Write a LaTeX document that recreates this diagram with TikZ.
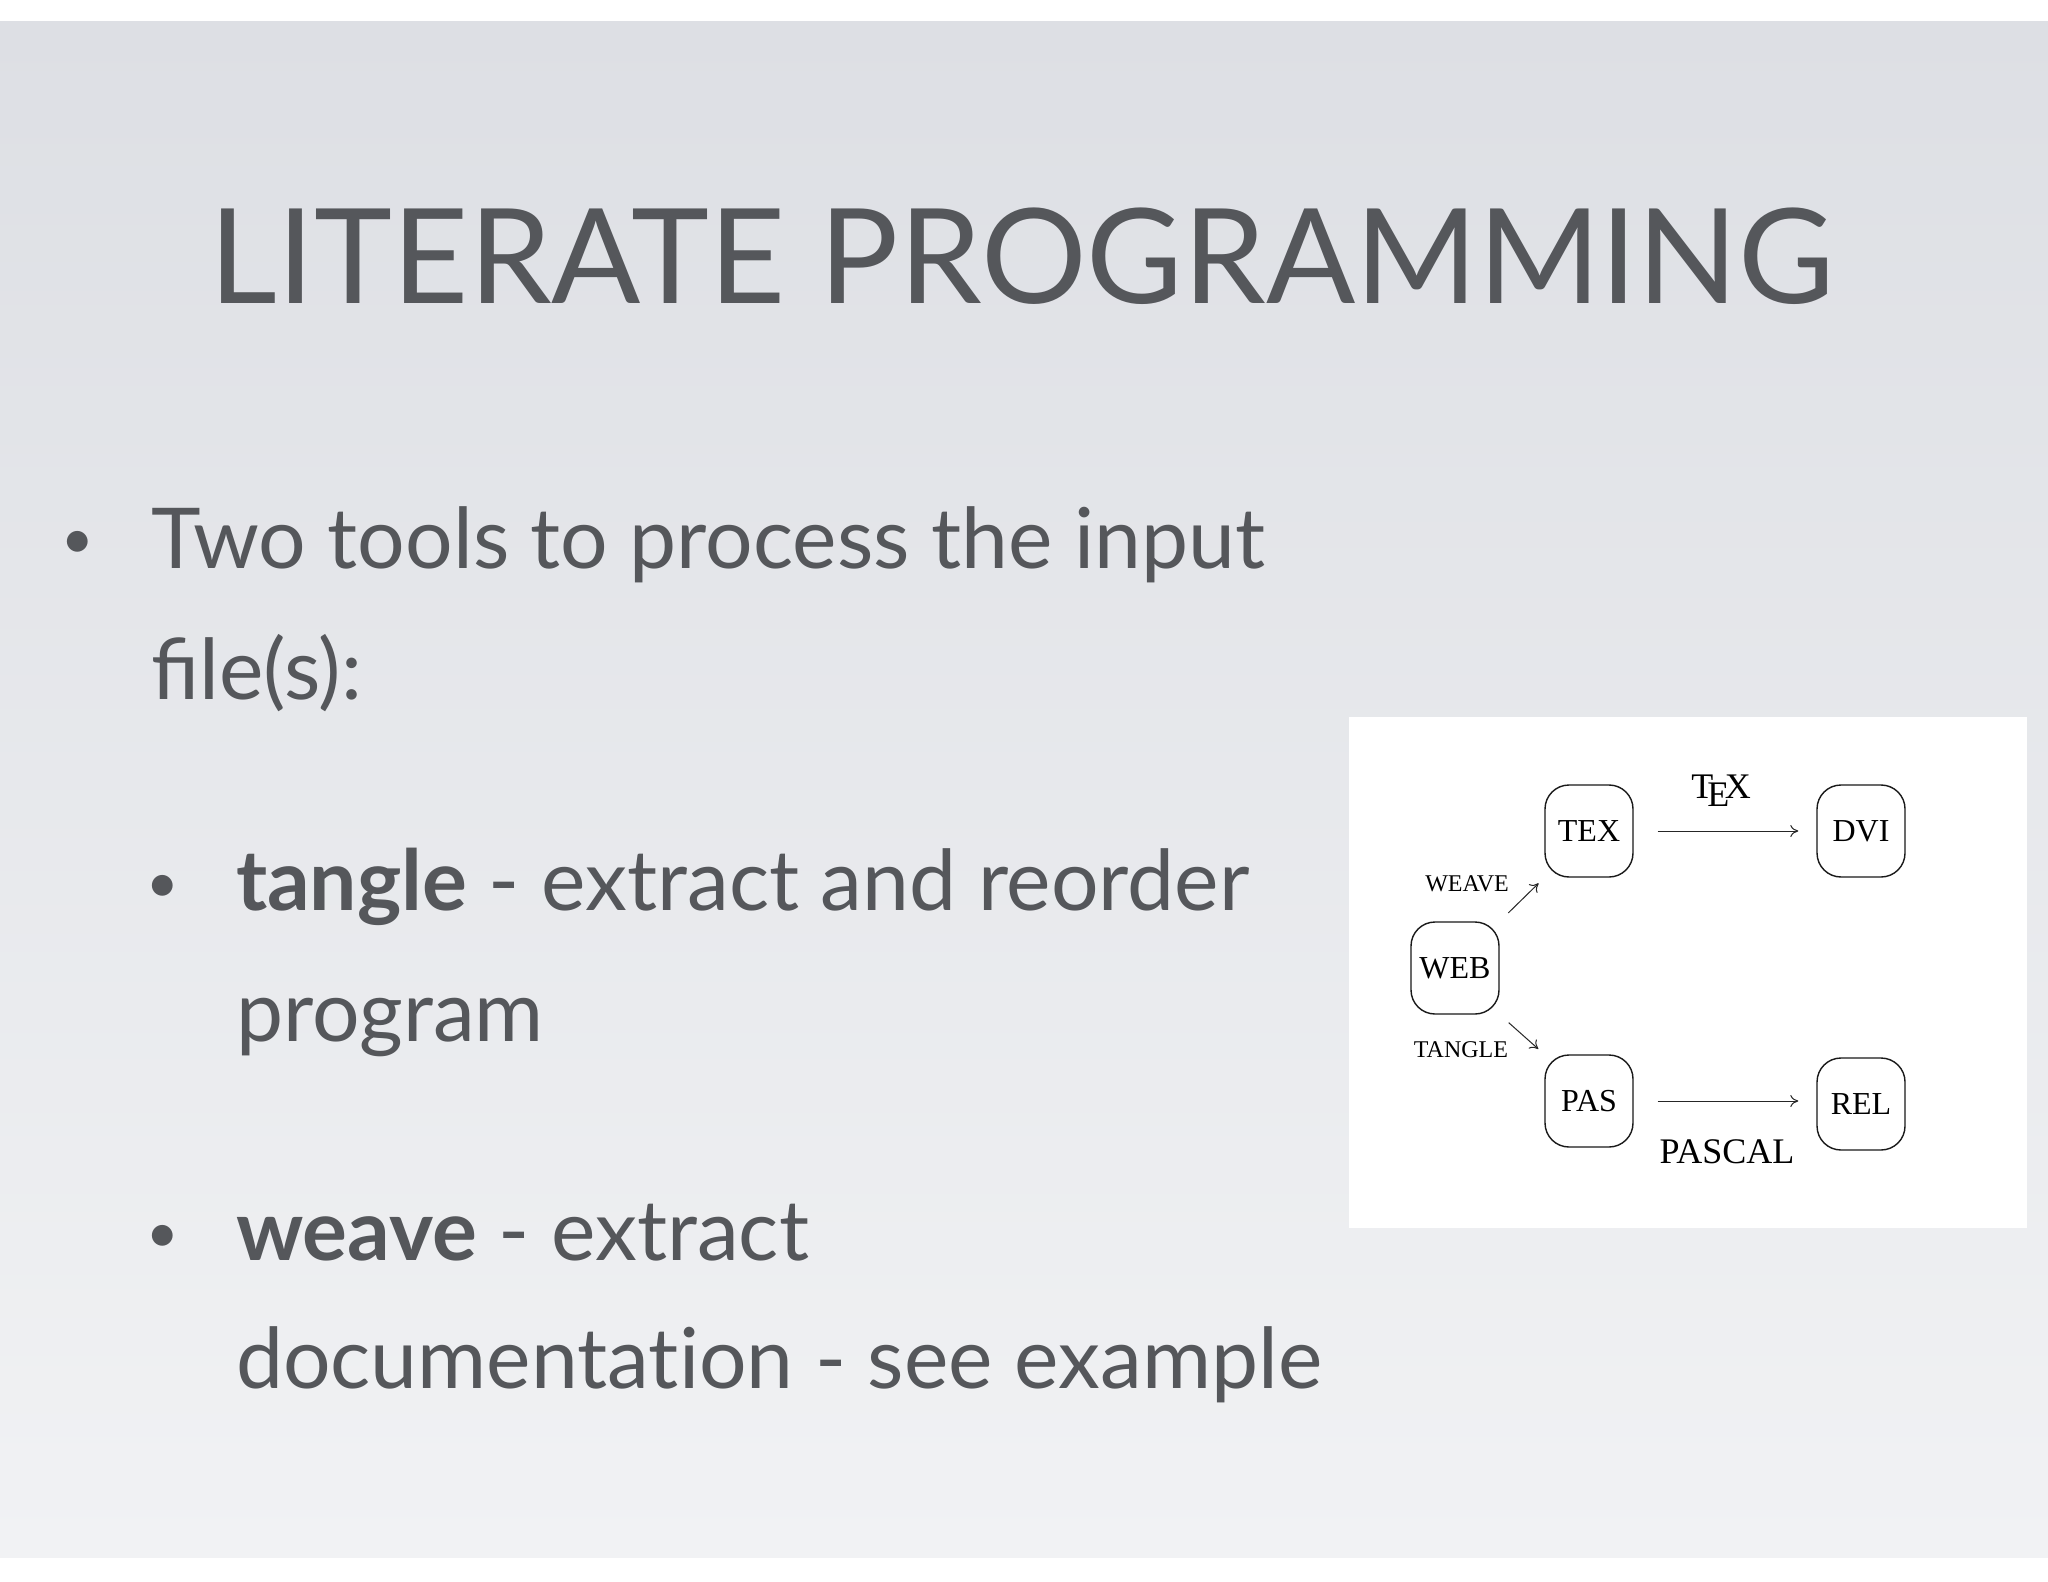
\documentclass[tikz,border=0pt]{standalone}
\usepackage{fontspec}
\setmainfont{Lato}
\newfontfamily\dserif{Liberation Serif}
\usetikzlibrary{arrows.meta}
\definecolor{txt}{HTML}{55575B}
\definecolor{bgtop}{HTML}{DDDFE4}
\definecolor{bgbot}{HTML}{F1F2F4}
\tikzset{
  box/.style={draw=black!90,line width=0.7pt,rounded corners=12pt,minimum width=44pt,minimum height=46pt,font=\dserif\fontsize{16}{16}\selectfont,inner sep=1pt},
  arr/.style={-{To[length=4pt,width=6pt]},line width=0.5pt,black!85},
  body/.style={anchor=base west,text=txt,font=\fontsize{42}{42}\selectfont},
}
\begin{document}
\begin{tikzpicture}[x=0.5pt,y=-0.5pt]
\useasboundingbox (0,0) rectangle (2048,1582);
\fill[white] (0,0) rectangle (2048,1582);
\shade[top color=bgtop,bottom color=bgbot] (0,22) rectangle (2048,1557);
\node[anchor=base,text=txt,font=\fontsize{66}{66}\selectfont] (title) at (1022,304) {LITERATE PROGRAMMING};
\node[text=txt,font=\fontsize{28}{28}\selectfont] (b1) at (78,545) {•};
\node[body] (t1) at (144,568) {Two tools to process the input};
\node[body] (t2) at (144,699) {file(s):};
\node[text=txt,font=\fontsize{28}{28}\selectfont] (b2) at (163,889) {•};
\node[body] (t3) at (229,910) {\textbf{tangle} - extract and reorder};
\node[body] (t4) at (229,1041) {program};
\node[text=txt,font=\fontsize{28}{28}\selectfont] (b3) at (163,1239) {•};
\node[body] (t5) at (229,1260) {\textbf{weave} - extract};
\node[body] (t6) at (229,1388) {documentat\kern0pt ion - see example};
% diagram panel
\fill[white] (1349,717) rectangle (2027,1228);
\node[box] (tex) at (1589,831) {TEX};
\node[box] (dvi) at (1861,831) {DVI};
\node[box] (web) at (1455,968) {WEB};
\node[box] (pas) at (1589,1101) {PAS};
\node[box] (rel) at (1861,1104) {REL};
\draw[arr,shorten <=12pt,shorten >=9pt] (tex) -- (dvi);
\draw[arr,shorten <=12pt,shorten >=9pt] (pas.east) -- (pas.east -| rel.west);
\draw[arr,shorten <=6pt,shorten >=4pt] (web.north east) -- (tex.south west);
\draw[arr,shorten <=6pt,shorten >=4pt] (web.south east) -- (pas.north west);
\node[font=\dserif\fontsize{12}{12}\selectfont] (weave) at (1467,884) {WEAVE};
\node[font=\dserif\fontsize{12}{12}\selectfont] (tangle) at (1461,1050) {TANGLE};
\node[font=\dserif\fontsize{18}{18}\selectfont] (texl) at (1721,791) {T\kern-.1667em\lower.5ex\hbox{E}\kern-.125emX};
\node[font=\dserif\fontsize{18}{18}\selectfont] (pascal) at (1727,1152) {PASCAL};
\end{tikzpicture}
\end{document}
